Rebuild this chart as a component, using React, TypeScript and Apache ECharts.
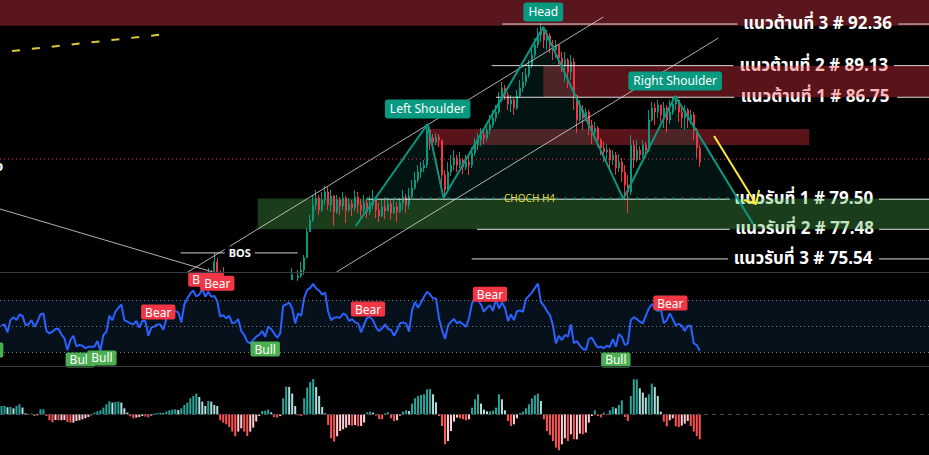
import React, { useEffect, useRef } from "react";
import * as echarts from "echarts";

// ---------- data ----------
const TOTAL_BARS = 310;
const FIRST_CANDLE = 69;

// candles from index 69 (null = outside the visible window)
const closes: (number | null)[] = [
  74.07, 74.45, 75.35, 74.26, 74.58, 74.07, 73.95,
  null, null, null, null, null, null, null, null, null, null,
  null, null, null, null, null, null, null, null, null, null,
  74.20, 74.52, 74.33, 74.45, 74.83, 75.61, 77.31, 78.10, 79.11, 79.59,
  78.77, 79.45, 79.99, 79.11, 79.72, 78.64, 79.45, 79.04, 79.59, 78.77,
  79.18, 78.91, 79.65, 79.11, 78.77, 79.25, 78.64, 79.11, 79.45, 78.77,
  78.37, 78.98, 78.70, 79.18, 78.57, 78.98, 78.64, 79.25, 79.65, 79.11,
  79.72, 80.27, 80.82, 81.37, 81.65, 81.86, 84.35, 83.77, 83.49, 83.85,
  83.63, 81.17, 80.13, 81.37, 81.86, 82.35, 81.86, 82.21, 81.72, 82.07,
  81.86, 82.71, 83.27, 83.63, 83.99, 83.77, 84.35, 84.72, 85.23, 85.66,
  86.55, 87.44, 86.92, 86.25, 86.55, 85.96, 86.85, 87.44, 87.89, 88.42,
  89.10, 89.94, 90.71, 91.50, 91.73, 91.10, 91.42, 90.71, 90.33, 90.71,
  89.71, 89.18, 89.56, 88.65, 89.41, 86.92, 85.08, 85.81, 85.23, 85.66,
  84.72, 84.21, 84.50, 83.63, 83.06, 82.78, 82.92, 82.21, 82.57, 81.65,
  82.07, 81.37, 80.48, 79.99, 83.27, 82.21, 82.92, 82.57, 83.27, 82.92,
  85.08, 85.96, 85.66, 86.18, 85.45, 85.96, 85.08, 85.66, 86.25, 86.55,
  85.66, 85.23, 85.81, 85.08, 85.45, 84.35, 83.06, 82.07,
];
const highs: (number | null)[] = [
  74.96, 74.83, 75.93, 75.61, 74.83, 75.02, 74.26,
  null, null, null, null, null, null, null, null, null, null,
  null, null, null, null, null, null, null, null, null, null,
  74.39, 74.96, 74.58, 74.83, 75.35, 75.80, 77.57, 78.44, 79.79, 80.13,
  79.79, 79.99, 80.41, 80.34, 80.13, 79.79, 79.79, 79.65, 79.99, 79.72,
  79.59, 79.45, 80.13, 79.99, 79.52, 79.79, 79.45, 79.72, 80.13, 79.59,
  79.25, 79.45, 79.59, 79.59, 79.45, 79.45, 79.31, 79.59, 80.13, 79.86,
  80.27, 80.82, 81.37, 81.86, 82.07, 82.21, 84.79, 84.57, 84.06, 84.13,
  84.06, 83.63, 81.51, 82.07, 82.57, 82.92, 82.57, 82.78, 82.35, 82.57,
  82.42, 83.13, 83.77, 84.13, 84.49, 84.35, 84.79, 85.45, 85.81, 86.18,
  87.14, 87.89, 87.67, 87.14, 86.92, 86.70, 87.29, 88.04, 88.65, 88.95,
  89.56, 90.48, 91.26, 92.05, 92.44, 92.05, 91.89, 91.65, 91.10, 91.10,
  90.71, 90.18, 90.18, 89.71, 89.94, 89.71, 86.92, 86.55, 86.18, 85.96,
  85.81, 85.08, 84.94, 84.64, 83.77, 83.49, 83.34, 83.06, 82.92, 82.78,
  82.64, 82.35, 81.86, 81.17, 83.99, 83.63, 83.63, 83.20, 83.63, 83.49,
  85.81, 86.40, 86.33, 86.55, 86.18, 86.40, 86.18, 86.55, 86.70, 86.85,
  86.55, 86.18, 86.18, 85.96, 85.81, 85.66, 84.50, 83.27,
];
const lows: (number | null)[] = [
  73.83, 74.14, 74.45, 74.01, 74.20, 73.83, 73.70,
  null, null, null, null, null, null, null, null, null, null,
  null, null, null, null, null, null, null, null, null, null,
  73.95, 74.20, 74.07, 74.14, 74.33, 74.52, 75.61, 77.31, 77.97, 78.77,
  78.44, 78.64, 79.11, 78.77, 78.64, 77.70, 78.50, 78.44, 78.77, 77.90,
  78.64, 78.37, 78.70, 78.57, 78.30, 78.57, 78.23, 78.44, 78.84, 78.23,
  77.97, 78.30, 78.17, 78.70, 78.10, 78.50, 77.97, 78.57, 78.77, 78.57,
  78.84, 79.59, 80.13, 80.61, 80.96, 81.37, 81.65, 82.92, 82.92, 83.27,
  83.13, 80.48, 79.59, 79.99, 81.10, 81.51, 81.37, 81.65, 81.23, 81.51,
  81.17, 81.65, 82.50, 82.92, 83.20, 83.34, 83.56, 84.06, 84.50, 84.93,
  85.52, 86.40, 86.55, 85.81, 85.66, 85.45, 85.81, 86.70, 87.14, 87.59,
  88.19, 88.95, 89.71, 90.48, 90.95, 90.48, 90.33, 90.10, 89.56, 89.71,
  89.18, 88.65, 87.89, 87.44, 88.04, 85.81, 84.13, 84.93, 84.35, 85.01,
  83.99, 83.34, 83.63, 83.13, 82.57, 82.07, 82.21, 81.51, 81.86, 81.17,
  81.37, 80.68, 79.45, 78.57, 79.79, 81.65, 82.07, 82.21, 82.35, 82.35,
  82.78, 84.94, 84.72, 85.23, 84.94, 84.50, 84.21, 84.79, 85.45, 85.81,
  84.94, 84.50, 84.35, 84.50, 84.79, 83.63, 82.35, 81.72,
];

const rsi = [
  50.4, 51.4, 45.3, 54.7, 57.0, 54.7, 59.0, 58.0, 50.9, 51.4,
  54.7, 49.7, 53.5, 59.0, 59.8, 46.3, 44.5, 45.8, 47.9, 48.1,
  43.8, 40.7, 31.8, 39.4, 42.7, 34.6, 35.6, 35.1, 33.1, 34.3,
  34.3, 34.3, 38.7, 31.1, 43.3, 45.8, 58.0, 54.7, 61.1, 64.1,
  66.7, 54.7, 53.5, 52.2, 51.4, 54.0, 48.9, 54.0, 54.0, 42.7,
  48.9, 49.7, 51.4, 51.4, 47.3, 55.5, 59.0, 62.9, 61.6, 60.6,
  53.0, 66.7, 71.3, 75.1, 77.4, 72.8, 74.3, 78.4, 72.6, 76.4,
  72.6, 73.3, 69.2, 57.3, 58.5, 56.0, 58.0, 52.2, 53.0, 55.5,
  46.3, 43.3, 38.2, 36.9, 39.4, 42.0, 43.3, 46.3, 42.0, 49.7,
  47.9, 44.5, 41.2, 44.5, 65.7, 66.7, 68.2, 63.6, 52.2, 59.8,
  58.0, 71.8, 77.9, 79.4, 82.5, 78.9, 77.4, 74.3, 75.8, 61.1,
  54.7, 56.5, 57.0, 56.5, 59.8, 58.5, 54.0, 55.5, 53.0, 52.2,
  45.3, 51.4, 56.5, 57.0, 54.5, 48.9, 46.3, 48.4, 51.4, 47.9,
  47.1, 42.7, 47.1, 52.2, 53.0, 52.0, 45.8, 62.4, 68.7, 64.1,
  68.2, 72.6, 76.4, 74.3, 71.3, 71.3, 56.0, 47.1, 40.2, 50.4,
  53.5, 55.5, 52.2, 53.5, 51.4, 49.7, 56.0, 67.5, 71.8, 70.0,
  66.7, 61.1, 64.1, 66.2, 61.6, 70.8, 63.6, 68.2, 64.1, 54.0,
  59.0, 54.7, 61.6, 62.1, 61.1, 70.8, 73.3, 75.8, 79.4, 82.7,
  68.7, 65.7, 61.6, 58.5, 50.9, 36.9, 42.7, 39.4, 43.3, 42.0,
  51.4, 36.9, 38.7, 35.1, 32.6, 31.8, 40.2, 41.2, 36.9, 33.6,
  34.3, 33.1, 35.1, 34.1, 40.2, 34.3, 43.8, 42.0, 35.6, 36.9,
  54.7, 57.0, 55.5, 53.5, 52.2, 58.0, 63.6, 66.9, 64.1, 61.6,
  63.1, 52.2, 54.7, 59.8, 55.5, 50.4, 51.9, 50.4, 46.3, 50.4,
  50.4, 36.9, 35.6, 31.1,
];

const hist = [
  0.083, 0.083, 0.07, 0.073, 0.06, 0.083, 0.1, 0.067, 0.01, -0.007,
  0.007, -0.017, -0.01, 0.05, 0.05, -0.017, -0.06, -0.08, -0.057, -0.06,
  -0.06, -0.057, -0.077, -0.083, -0.083, -0.067, -0.06, -0.05, -0.04, -0.027,
  -0.01, 0.017, 0.03, 0.04, 0.067, 0.1, 0.13, 0.117, 0.123, 0.127,
  0.117, 0.06, 0.017, -0.02, -0.04, -0.033, -0.027, -0.017, -0.023, -0.03,
  -0.013, 0.007, 0.013, 0.017, 0.01, 0.027, 0.04, 0.047, 0.05, 0.043,
  0.06, 0.093, 0.117, 0.16, 0.183, 0.207, 0.173, 0.127, 0.083, 0.133,
  0.127, 0.093, 0.083, -0.06, -0.083, -0.1, -0.127, -0.173, -0.22, -0.173,
  -0.14, -0.173, -0.217, -0.173, -0.133, -0.073, -0.017, 0.033, 0.037, 0.047,
  0.02, -0.027, -0.033, -0.017, 0.16, 0.277, 0.273, 0.207, 0.083, -0.01,
  -0.017, 0.16, 0.267, 0.323, 0.353, 0.273, 0.183, 0.073, 0.01, -0.107,
  -0.24, -0.273, -0.22, -0.167, -0.15, -0.133, -0.107, -0.113, -0.107, -0.12,
  -0.117, -0.083, 0.02, 0.027, 0.017, -0.013, -0.047, -0.05, 0.01, 0.02,
  -0.04, -0.067, -0.06, -0.013, 0.027, 0.04, 0.033, 0.107, 0.16, 0.183,
  0.193, 0.2, 0.25, 0.253, 0.2, 0.12, -0.017, -0.117, -0.3, -0.267,
  -0.167, -0.073, -0.033, -0.04, -0.05, -0.06, -0.05, 0.067, 0.15, 0.2,
  0.107, 0.047, 0.03, 0.03, 0.037, 0.067, 0.2, 0.15, 0.04, -0.067,
  -0.117, -0.1, -0.04, 0.013, 0.027, 0.06, 0.1, 0.16, 0.19, 0.207,
  0.133, -0.05, -0.167, -0.207, -0.267, -0.333, -0.36, -0.3, -0.24, -0.267,
  -0.2, -0.25, -0.25, -0.193, -0.2, -0.183, -0.083, -0.017, 0.04, -0.017,
  -0.03, 0.017, -0.007, 0.04, 0.073, 0.06, 0.093, 0.14, -0.027, -0.067,
  0.183, 0.35, 0.35, 0.26, 0.217, 0.167, 0.2, 0.307, 0.273, 0.183,
  0.027, -0.073, -0.12, -0.06, -0.04, -0.12, -0.127, -0.113, -0.093, -0.067,
  -0.117, -0.173, -0.217, -0.25,
];

// support / resistance levels
const levelPrices = [92.36, 89.13, 86.75, 79.5, 77.48, 75.54];
const levelTexts = [
  "แนวต้านที่ 3 # 92.36",
  "แนวต้านที่ 2 # 89.13",
  "แนวต้านที่ 1 # 86.75",
  "แนวรับที่ 1 # 79.50",
  "แนวรับที่ 2 # 77.48",
  "แนวรับที่ 3 # 75.54",
];
const levelTextBar = [272.3, 271.1, 271.5, 267.7, 268, 267.5];
const levelSegA = [[167.1, 245.6], [163.6, 244.2], [165, 244.5], [121.8, 243.0], [158.7, 243.0], [156.9, 242.4]];
const levelSegB = [[299.3, 309.5], [297.8, 309.5], [298.9, 309.5], [292.8, 309.5], [292.8, 309.5], [292.8, 309.5]];

// zones: [fromBar, toBar, lowPrice, highPrice, kind]
const topZone = [[-0.5, 309.5, 92.23, 96]];
const zones = [
  [180.8, 309.5, 86.75, 89.13, 0],
  [141.7, 269.5, 83.27, 84.42, 0],
  [85.5, 309.5, 77.48, 79.55, 1],
];

// head & shoulders pivots
const hsBar = [118.2, 142.2, 147.5, 180.8, 207.5, 224.8, 250.8];
const hsPrice = [77.7, 84.79, 79.59, 92.13, 79.52, 86.85, 77.84];
const hsNeck = 79.55;
const hsNames = ["", "Left Shoulder", "", "Head", "", "Right Shoulder", ""];

// trend / channel drawings [bar, price]
const channelUpper = [[62.2, 74.7], [200.8, 92.92]];
const channelLower = [[111.8, 74.7], [239.2, 91.26]];
const downTrend = [[-0.5, 78.84], [70.5, 74.7]];
const bosLine = [[59.8, 75.93], [98.8, 75.93]];
const bosText = [79.5, 75.93];
const yellowDash = [[3.5, 90.25], [54.8, 91.57]];
const redDotted = [[-0.5, 82.28], [309.5, 82.28]];
const chochLine = [[121.8, 79.55], [244, 79.55]];
const chochText = [176.2, 79.55];
const arrowShaft = [[237.8, 83.92], [251.8, 79.18]];
const arrowHeadA = [[252.8, 80.13], [251.8, 79.18], [247.8, 79.45]];

// oscillator signal labels [bar, rsi]
const bearMarks = [[68, 78.4], [72, 75.3], [52.3, 53.2], [122.3, 55.5], [163, 66.9], [223.2, 60.1]];
const bullMarks = [[-4.3, 39.5], [26.3, 31.8], [33.5, 33.4], [88, 40.2], [205, 31.8]];

// ---------- chart ----------
const UP = "#089981";
const DOWN = "#f23645";
const LABEL_FONT = "'Noto Sans', 'Open Sans', sans-serif";
const THAI_FONT = "Tahoma, 'Noto Sans Thai', 'Leelawadee UI', 'Noto Sans', 'DejaVu Sans', sans-serif";
const HIDDEN_POINT = { color: "rgba(0,0,0,0)", opacity: 1 };

function seg(data: number[][], color: string, width: number, type: any, z: number) {
  return {
    type: "line",
    xAxisIndex: 1,
    yAxisIndex: 0,
    data,
    symbol: "none",
    showSymbol: false,
    silent: true,
    clip: true,
    z,
    lineStyle: { color, width, type },
  };
}

function zoneRender(colors: string[]) {
  return (params: any, api: any) => {
    const p0 = api.coord([api.value(0), api.value(3)]);
    const p1 = api.coord([api.value(1), api.value(2)]);
    const cs = params.coordSys;
    const rect = echarts.graphic.clipRectByRect(
      { x: p0[0], y: p0[1], width: p1[0] - p0[0], height: p1[1] - p0[1] },
      { x: cs.x, y: cs.y, width: cs.width, height: cs.height }
    );
    if (!rect) return null;
    return { type: "rect", shape: rect, style: { fill: colors[api.value(4) || 0] } };
  };
}

export default function App() {
  const ref = useRef<HTMLDivElement>(null);

  useEffect(() => {
    document.body.style.margin = "0";
    document.body.style.background = "#000";
    const chart = echarts.init(ref.current!, undefined, { renderer: "svg" });
    const cats = Array.from({ length: TOTAL_BARS }, (_, i) => String(i));

    const candleData: number[][] = [];
    closes.forEach((c, k) => {
      if (c == null) return;
      const prev = k > 0 ? closes[k - 1] : null;
      const open = prev == null ? c : prev;
      candleData.push([FIRST_CANDLE + k, open, c, lows[k] as number, highs[k] as number]);
    });

    const histData = hist.map((v, k) => {
      const prev = k > 0 ? hist[k - 1] : v;
      let color;
      if (v >= 0) color = v >= prev ? "#26a69a" : "#b2dfdb";
      else color = v < prev ? "#ff5252" : "#ffcdd2";
      return { value: v, itemStyle: { color } };
    });

    const levelSeries: any[] = [];
    levelPrices.forEach((p, k) => {
      levelSeries.push(seg([[levelSegA[k][0], p], [levelSegA[k][1], p]], "rgba(255,255,255,0.85)", 1, "solid", 6));
      levelSeries.push(seg([[levelSegB[k][0], p], [levelSegB[k][1], p]], "rgba(255,255,255,0.85)", 1, "solid", 6));
    });

    const hsLabelData = hsBar
      .map((b, k) => ({ b, k }))
      .filter((o) => hsNames[o.k])
      .map((o) => ({ value: [o.b, hsPrice[o.k]], name: hsNames[o.k] }));

    const option: any = {
      animation: false,
      backgroundColor: "#000",
      grid: [
        { left: 0, right: 0, top: 0, height: 272 },
        { left: 0, right: 0, top: 272, height: 94 },
        { left: 0, right: 0, top: 366, height: 89 },
      ],
      xAxis: [
        { type: "category", gridIndex: 0, data: cats, show: false, boundaryGap: true },
        { type: "value", gridIndex: 0, min: -0.5, max: TOTAL_BARS - 0.5, show: false },
        { type: "category", gridIndex: 1, data: cats, show: false, boundaryGap: true },
        { type: "value", gridIndex: 1, min: -0.5, max: TOTAL_BARS - 0.5, show: false },
        { type: "category", gridIndex: 2, data: cats, show: false, boundaryGap: true },
      ],
      yAxis: [
        { type: "log", gridIndex: 0, min: 74.7, max: 94.28, show: false },
        { type: "value", gridIndex: 1, min: 19.5, max: 91.6, show: false },
        { type: "value", gridIndex: 2, min: -0.407, max: 0.483, show: false },
      ],
      graphic: [
        { type: "line", shape: { x1: 0, y1: 272.5, x2: 929, y2: 272.5 }, style: { stroke: "#363a45", lineWidth: 1 }, z: 50 },
        { type: "line", shape: { x1: 0, y1: 366.5, x2: 929, y2: 366.5 }, style: { stroke: "#363a45", lineWidth: 1 }, z: 50 },
        { type: "text", x: -6, y: 158, style: { text: "o", fill: "#fff", font: "bold 15px sans-serif" }, z: 50 },
      ],
      series: [
        {
          type: "custom", name: "topZone", xAxisIndex: 1, yAxisIndex: 0, z: 1, silent: true,
          renderItem: zoneRender(["#5a161d"]), data: topZone, encode: { x: [0, 1], y: [2, 3] },
        },
        {
          type: "scatter", name: "levelText", xAxisIndex: 1, yAxisIndex: 0, z: 2, silent: true, clip: false,
          symbolSize: 1, itemStyle: HIDDEN_POINT,
          data: levelPrices.map((p, k) => [levelTextBar[k], p]),
          label: {
            show: true, position: "inside",
            formatter: (pr: any) => levelTexts[pr.dataIndex],
            color: "#ffffff", fontSize: 17, fontWeight: "bold", fontFamily: THAI_FONT,
          },
        },
        {
          type: "custom", name: "zones", xAxisIndex: 1, yAxisIndex: 0, z: 3, silent: true,
          renderItem: zoneRender(["rgba(242,54,69,0.37)", "rgba(76,175,80,0.35)"]),
          data: zones, encode: { x: [0, 1], y: [2, 3] },
        },
        {
          type: "custom", name: "hsFill", xAxisIndex: 1, yAxisIndex: 0, z: 4, silent: true,
          data: [[hsBar[0], hsPrice[0]]], encode: { x: 0, y: 1 },
          renderItem: (params: any, api: any) => {
            const pts = hsBar.map((b, k) => api.coord([b, hsPrice[k]]));
            const ny = api.coord([0, hsNeck])[1];
            const n = pts.length;
            const cross = (a: number[], b: number[]) => {
              const t = (ny - a[1]) / (b[1] - a[1]);
              return [a[0] + t * (b[0] - a[0]), ny];
            };
            const poly = [cross(pts[0], pts[1]), ...pts.slice(1, n - 1), cross(pts[n - 2], pts[n - 1])];
            return { type: "polygon", shape: { points: poly }, style: { fill: "rgba(8,153,129,0.13)" } };
          },
        },
        {
          type: "candlestick", name: "price", xAxisIndex: 0, yAxisIndex: 0, z: 5, clip: true,
          data: candleData, encode: { x: 0, y: [1, 2, 3, 4] }, barWidth: 1.5,
          itemStyle: { color: UP, color0: DOWN, borderColor: UP, borderColor0: DOWN, borderWidth: 1 },
        },
        ...levelSeries,
        seg(channelUpper, "rgba(220,220,220,0.8)", 1, "solid", 6),
        seg(channelLower, "rgba(220,220,220,0.8)", 1, "solid", 6),
        seg(downTrend, "rgba(220,220,220,0.8)", 1, "solid", 6),
        seg(bosLine, "rgba(235,235,235,0.9)", 1, "solid", 6),
        seg(yellowDash, "#d8c93a", 2, [8, 12], 6),
        seg(redDotted, "#f23645", 1, [1, 3], 6),
        seg(chochLine, UP, 2, [2, 7], 6),
        seg(arrowShaft, "#ffeb3b", 2, "solid", 7),
        seg(arrowHeadA, "#ffeb3b", 2, "solid", 7),
        {
          type: "line", name: "zigzag", xAxisIndex: 1, yAxisIndex: 0, z: 7, silent: true,
          data: hsBar.map((b, k) => [b, hsPrice[k]]), symbol: "none", showSymbol: false,
          lineStyle: { color: UP, width: 2 },
        },
        {
          type: "scatter", name: "hsLabels", xAxisIndex: 1, yAxisIndex: 0, z: 9, silent: true, clip: false,
          symbolSize: 1, itemStyle: HIDDEN_POINT, data: hsLabelData,
          label: {
            show: true, position: "top", distance: 5, formatter: "{b}",
            color: "#fff", fontSize: 12, fontFamily: LABEL_FONT, lineHeight: 13,
            backgroundColor: UP, padding: [3, 5], borderRadius: 3,
          },
        },
        {
          type: "scatter", name: "bos", xAxisIndex: 1, yAxisIndex: 0, z: 9, silent: true, clip: false,
          symbolSize: 1, itemStyle: HIDDEN_POINT, data: [bosText],
          label: {
            show: true, position: "inside", formatter: "BOS", color: "#fff", fontSize: 11,
            fontWeight: "bold", fontFamily: LABEL_FONT, backgroundColor: "#000", padding: [1, 4],
          },
        },
        {
          type: "scatter", name: "choch", xAxisIndex: 1, yAxisIndex: 0, z: 9, silent: true, clip: false,
          symbolSize: 1, itemStyle: HIDDEN_POINT, data: [chochText],
          label: {
            show: true, position: "inside", formatter: "CHOCH H4", color: "#e2dc3a", fontSize: 10,
            fontFamily: LABEL_FONT,
          },
        },
        // RSI panel
        {
          type: "line", name: "rsiBand", xAxisIndex: 2, yAxisIndex: 1, z: 1, silent: true,
          data: rsi, symbol: "none", showSymbol: false, lineStyle: { opacity: 0 },
          markArea: { silent: true, itemStyle: { color: "#06111c" }, data: [[{ yAxis: 30 }, { yAxis: 70 }]] },
          markLine: {
            silent: true, symbol: "none", label: { show: false },
            lineStyle: { color: "#787b86", width: 1, type: [1, 3] },
            data: [{ yAxis: 70 }, { yAxis: 50 }, { yAxis: 30 }],
          },
        },
        {
          type: "line", name: "rsi", xAxisIndex: 2, yAxisIndex: 1, z: 3, silent: true,
          data: rsi, symbol: "none", showSymbol: false, lineStyle: { color: "#2962ff", width: 2 },
        },
        {
          type: "scatter", name: "bear", xAxisIndex: 3, yAxisIndex: 1, z: 10, silent: true, clip: false,
          symbolSize: 1, itemStyle: HIDDEN_POINT, data: bearMarks,
          label: {
            show: true, position: "top", distance: 2, formatter: "Bear", color: "#fff", fontSize: 12,
            fontFamily: LABEL_FONT, lineHeight: 13, backgroundColor: DOWN, padding: [1, 4], borderRadius: 2,
          },
        },
        {
          type: "scatter", name: "bull", xAxisIndex: 3, yAxisIndex: 1, z: 10, silent: true, clip: false,
          symbolSize: 1, itemStyle: HIDDEN_POINT, data: bullMarks,
          label: {
            show: true, position: "bottom", distance: 2, formatter: "Bull", color: "#fff", fontSize: 12,
            fontFamily: LABEL_FONT, lineHeight: 13, backgroundColor: "#4caf50", padding: [1, 4], borderRadius: 2,
          },
        },
        // histogram panel
        {
          type: "bar", name: "hist", xAxisIndex: 4, yAxisIndex: 2, z: 3, silent: true,
          data: histData, barWidth: 2,
          markLine: {
            silent: true, symbol: "none", label: { show: false },
            lineStyle: { color: "#4a4d57", width: 1, type: [4, 4] },
            data: [{ yAxis: 0 }],
          },
        },
      ],
    };

    chart.setOption(option);
    return () => chart.dispose();
  }, []);

  return (
    <div
      ref={ref}
      style={{ position: "fixed", left: 0, top: 0, width: 929, height: 455, background: "#000" }}
    />
  );
}
